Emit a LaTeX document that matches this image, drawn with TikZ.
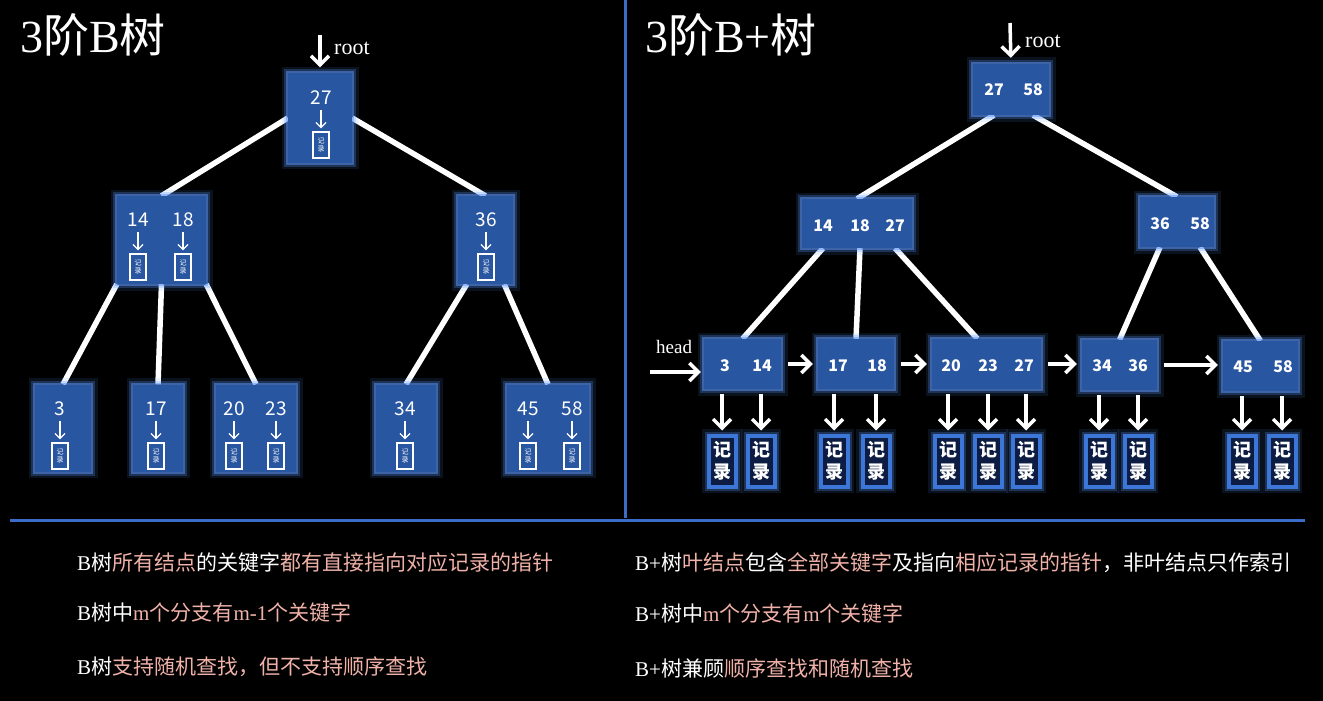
\documentclass[tikz,border=0pt]{standalone}
\usepackage{fontspec}
\setmainfont{Liberation Serif}
\newfontfamily\cjk{Noto Sans CJK SC}
\usetikzlibrary{arrows.meta,calc}

\pgfdeclarelayer{edgelayer}
\pgfsetlayers{edgelayer,main}

\definecolor{nodeblue}{RGB}{40,86,160}
\definecolor{glowblue}{RGB}{90,150,250}
\definecolor{lineblue}{RGB}{58,108,200}
\definecolor{recnavy}{RGB}{12,28,66}
\definecolor{recblue}{RGB}{60,118,215}
\definecolor{pinktext}{RGB}{240,178,168}

\newcommand{\pinkzh}[1]{{\color{pinktext}\cjk #1}}
\newcommand{\whitezh}[1]{{\cjk #1}}
\newcommand{\pinkm}[1]{{\color{pinktext}#1}}

\tikzset{
  glow/.style={preaction={draw=glowblue,line width=13pt,opacity=.12},
               preaction={draw=glowblue,line width=8pt,opacity=.25},
               preaction={draw=glowblue,line width=4pt,opacity=.5}},
  treenode/.style 2 args={fill=nodeblue,glow,minimum width=#1,minimum height=#2,inner sep=0pt},
  keytext/.style={text=white,font=\cjk\fontsize{19}{19}\selectfont,inner sep=0pt},
  bkey/.style={text=white,font=\cjk\bfseries\fontsize{16}{16}\selectfont,inner sep=0pt},
  minirec/.style={draw=white,line width=1.3pt,minimum width=16,minimum height=26,inner sep=0pt,
    align=center,text=white,font=\cjk\fontsize{7}{8.5}\selectfont},
  leafrec/.style={fill=recnavy,draw=recblue,line width=4pt,glow,minimum width=27,minimum height=51,
    inner sep=0pt,align=center,text=white,font=\cjk\bfseries\fontsize{18}{22}\selectfont},
  branch/.style={white,line width=5.5pt},
  thinarrow/.style={white,line width=1.3pt,-{Straight Barb[length=5pt,width=10pt]}},
  fatarrow/.style={white,line width=3.5pt,-{Straight Barb[length=9pt,width=18pt]}},
  sepline/.style={lineblue,line width=3pt},
  titletext/.style={anchor=west,text=white,font=\fontsize{46}{46}\selectfont,inner sep=0pt},
  btext/.style={anchor=west,text=white,font=\fontsize{21}{21}\selectfont,inner sep=0pt},
  labeltext/.style={anchor=west,text=white,font=\fontsize{22}{22}\selectfont,inner sep=0pt}
}

\begin{document}
\begin{tikzpicture}[x=1pt,y=-1pt]
  \begin{pgfonlayer}{edgelayer}
    \fill[black] (0,0) rectangle (1323,701);
  \end{pgfonlayer}
  \useasboundingbox (0,0) rectangle (1323,701);

  % frame lines
  \draw[sepline] (625,0) -- (625,518);
  \draw[sepline] (10,520) -- (1305,520);

  % titles
  \node[titletext] (titleB) at (20,35) {3{\cjk 阶}B{\cjk 树}};
  \node[titletext] (titleBplus) at (645,35) {3{\cjk 阶}B+{\cjk 树}};

  % ---- B tree ----
  \node[treenode={64}{89}] (r27) at (320,118) {};
  \node[treenode={89}{88}] (n1418) at (161.5,240) {};
  \node[treenode={55}{88}] (n36) at (485.5,240) {};
  \node[treenode={56}{87}] (l3) at (63,428) {};
  \node[treenode={50}{87}] (l17) at (158,428) {};
  \node[treenode={80}{87}] (l2023) at (256,428) {};
  \node[treenode={60}{87}] (l34) at (406,428) {};
  \node[treenode={82}{87}] (l4558) at (548,428) {};

  \foreach \k/\x/\y in {27/321/98, 14/138/220, 18/183/220, 36/486/220,
    3/60/409, 17/156/409, 20/234/409, 23/276/409, 34/405/409, 45/528/409, 58/572/409}
  {
    \node[keytext] (k\k) at (\x,\y) {\k};
    \node[minirec] (m\k) at (\x,\y+47) {记\\录};
    \draw[thinarrow,shorten <=5pt,shorten >=3pt] (k\k) -- (m\k);
  }

  \coordinate (rootin) at (320,35);
  \draw[fatarrow,shorten >=6pt] (rootin) -- (r27.north);
  \node[labeltext] (rootlbl) at (334,48) {root};

  % ---- B+ tree ----
  \node[treenode={76}{51}] (broot) at (1011,89.5) {};
  \node[treenode={110}{49}] (bi1) at (857,223.5) {};
  \node[treenode={74}{50}] (bi2) at (1177,222) {};
  \node[treenode={77}{50}] (bl1) at (742.5,364) {};
  \node[treenode={76}{50}] (bl2) at (856,364) {};
  \node[treenode={109}{50}] (bl3) at (986.5,364) {};
  \node[treenode={75}{50}] (bl4) at (1119.5,365) {};
  \node[treenode={75}{50}] (bl5) at (1260.5,366) {};

  \node[bkey] (rk27) at (994,90) {27};
  \node[bkey] (rk58) at (1033,90) {58};
  \node[bkey] (ik14) at (823,226) {14};
  \node[bkey] (ik18) at (860,226) {18};
  \node[bkey] (ik27) at (895,226) {27};
  \node[bkey] (ik36) at (1160,224) {36};
  \node[bkey] (ik58) at (1200,224) {58};

  \foreach \k/\x/\y/\rx/\lf in {3/725/366/722/bl1, 14/762/366/761/bl1,
    17/838/366/834/bl2, 18/877/366/876/bl2,
    20/951/366/948/bl3, 23/988/366/988/bl3, 27/1024/366/1026/bl3,
    34/1102/366/1099/bl4, 36/1138/366/1138/bl4,
    45/1243/367/1242/bl5, 58/1283/367/1282/bl5}
  {
    \node[bkey] (lk\k) at (\x,\y) {\k};
    \node[leafrec] (rc\k) at (\rx,461) {记\\录};
    \draw[fatarrow,shorten <=5pt,shorten >=3pt] (rc\k |- \lf.south) -- (rc\k.north);
  }

  % leaf chain
  \foreach \a/\b in {bl1/bl2, bl2/bl3, bl3/bl4, bl4/bl5}
    \draw[fatarrow,shorten <=7pt,shorten >=5pt] (\a.east) -- (\a.east -| \b.west);

  \coordinate (headin) at (650,372);
  \draw[fatarrow,shorten >=3pt] (headin) -- (headin -| bl1.west);
  \node[labeltext,font=\fontsize{19}{19}\selectfont] (headlbl) at (656,347) {head};

  \coordinate (brootin) at (1010,23);
  \draw[fatarrow,shorten >=6pt] (brootin) -- (broot.north);
  \node[labeltext] (brootlbl) at (1025,41) {root};

  % branches
  \begin{pgfonlayer}{edgelayer}
    \draw[branch] (r27.west) -- (n1418.north);
    \draw[branch] (r27.east) -- (n36.north);
    \draw[branch] (n1418.south west) -- (l3.north);
    \draw[branch] (n1418.south) -- (l17.north);
    \draw[branch] (n1418.south east) -- (l2023.north);
    \draw[branch] ($(n36.south west)+(9,0)$) -- (l34.north);
    \draw[branch] ($(n36.south east)+(-9,0)$) -- (l4558.north);

    \draw[branch] (rk27 |- broot.south) -- (bi1.north);
    \draw[branch] (rk58 |- broot.south) -- (bi2.north);
    \draw[branch] (ik14 |- bi1.south) -- (bl1.north);
    \draw[branch] (ik18 |- bi1.south) -- (bl2.north);
    \draw[branch] (ik27 |- bi1.south) -- ($(bl3.north)+(-9,0)$);
    \draw[branch] (ik36 |- bi2.south) -- (bl4.north);
    \draw[branch] (ik58 |- bi2.south) -- (bl5.north);
  \end{pgfonlayer}

  % notes
  \node[btext] (noteL1) at (77,563) {B\whitezh{树}\pinkzh{所有结点}\whitezh{的关键字}\pinkzh{都有直接指向对应记录的指针}};
  \node[btext] (noteL2) at (77,612) {B\whitezh{树中}\pinkm{m}\pinkzh{个分支有}\pinkm{m-1}\pinkzh{个关键字}};
  \node[btext] (noteL3) at (77,667) {B\whitezh{树}\pinkzh{支持随机查找，但不支持顺序查找}};
  \node[btext] (noteR1) at (635,563) {B+\whitezh{树}\pinkzh{叶结点}\whitezh{包含}\pinkzh{全部关键字}\whitezh{及指向}\pinkzh{相应记录的指针}\whitezh{，非叶结点只作索引}};
  \node[btext] (noteR2) at (635,613) {B+\whitezh{树中}\pinkm{m}\pinkzh{个分支有}\pinkm{m}\pinkzh{个关键字}};
  \node[btext] (noteR3) at (635,669) {B+\whitezh{树兼顾}\pinkzh{顺序查找和随机查找}};
\end{tikzpicture}
\end{document}
